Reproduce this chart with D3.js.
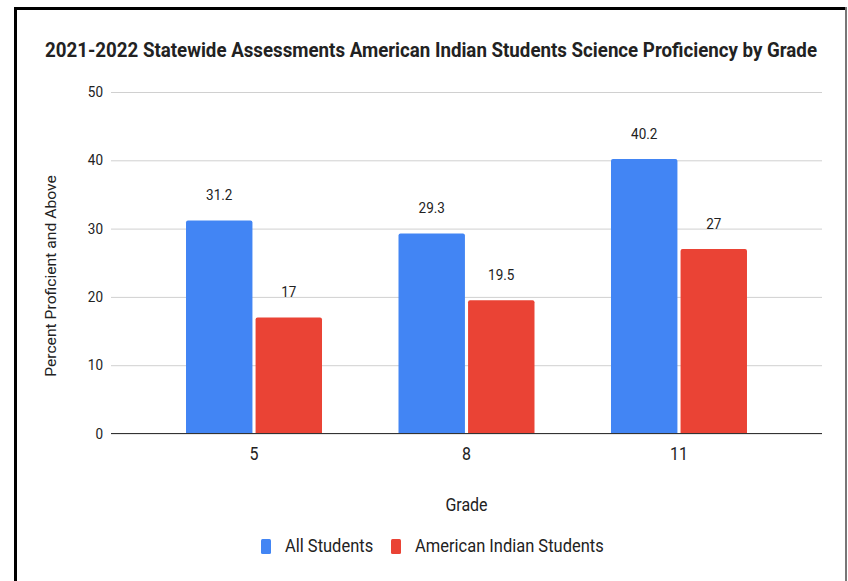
<!DOCTYPE html>
<html>
<head>
<meta charset="utf-8">
<script src="https://cdn.jsdelivr.net/npm/d3@7"></script>
<style>
  html, body { margin: 0; padding: 0; background: #fff; }
  svg { display: block; }
  text { font-family: Roboto, "Noto Sans", sans-serif; fill: #222; }
</style>
</head>
<body>
<svg id="chart" width="848" height="581"></svg>
<script>
const title = "2021-2022 Statewide Assessments American Indian Students Science Proficiency by Grade";
const grades = ["5", "8", "11"];
const seriesNames = ["All Students", "American Indian Students"];
const allStudents = [31.2, 29.3, 40.2];
const americanIndian = [17, 19.5, 27];
const seriesColors = ["#4285F4", "#EA4335"];
const yTicks = [0, 10, 20, 30, 40, 50];
const xTitle = "Grade";
const yTitle = "Percent Proficient and Above";

(function () {
const svg = d3.select("#chart");
const SY = 1.12; // vertical stretch of text in the reference

function txt(g, x, y, s, size, anchor, weight) {
  return g.append("text")
    .attr("transform", `translate(${x},${y}) scale(1,${SY})`)
    .attr("text-anchor", anchor || "start")
    .style("font-size", size + "px")
    .style("font-weight", weight || "normal")
    .text(s);
}

// frame
svg.append("rect").attr("x", 14).attr("y", 7).attr("width", 3).attr("height", 574).attr("fill", "#000");
svg.append("rect").attr("x", 14).attr("y", 7).attr("width", 832).attr("height", 3).attr("fill", "#000");
svg.append("rect").attr("x", 845).attr("y", 7).attr("width", 2).attr("height", 574).attr("fill", "#777");

const pLeft = 111, pRight = 822, pTop = 92, pBottom = 433.5;
const y = d3.scaleLinear().domain([0, 50]).range([pBottom, pTop]);
const x0 = d3.scaleBand().domain(grades).range([pLeft, pRight]).paddingInner(0.36).paddingOuter(0.353);
const x1 = d3.scaleBand().domain(seriesNames).range([0, x0.bandwidth()]).paddingInner(0.045);

const data = grades.map((g, i) => ({ grade: g, vals: [
  { s: seriesNames[0], v: allStudents[i], c: seriesColors[0] },
  { s: seriesNames[1], v: americanIndian[i], c: seriesColors[1] }
]}));

// gridlines
const grid = svg.append("g").attr("transform", `translate(${pLeft},0)`)
  .call(d3.axisLeft(y).tickValues(yTicks).tickSize(-(pRight - pLeft)).tickFormat(""));
grid.select(".domain").remove();
grid.selectAll(".tick line").attr("stroke", "#d0d0d0").attr("stroke-width", 1);

// y tick labels
yTicks.forEach(t => txt(svg, 103, y(t) + 5, String(t), 13.5, "end"));

// bars
const groups = svg.selectAll("g.grp").data(data).enter().append("g")
  .attr("class", "grp").attr("transform", d => `translate(${x0(d.grade)},0)`);
groups.selectAll("path").data(d => d.vals).enter().append("path")
  .attr("fill", d => d.c)
  .attr("d", d => {
    const bx = x1(d.s), bw = x1.bandwidth(), by = y(d.v), r = 2;
    return `M${bx},${pBottom} V${by + r} Q${bx},${by} ${bx + r},${by} H${bx + bw - r} Q${bx + bw},${by} ${bx + bw},${by + r} V${pBottom} Z`;
  });
groups.each(function(d) {
  const g = d3.select(this);
  d.vals.forEach(v => txt(g, x1(v.s) + x1.bandwidth() / 2, y(v.v) - 20, String(v.v), 13.5, "middle"));
});

// baseline
svg.append("line").attr("x1", pLeft).attr("x2", pRight).attr("y1", pBottom).attr("y2", pBottom)
  .attr("stroke", "#333").attr("stroke-width", 1.2);

// x tick labels
grades.forEach(g => txt(svg, x0(g) + x0.bandwidth() / 2, 460, g, 16, "middle"));

// axis titles
txt(svg, x0("8") + x0.bandwidth() / 2, 511, xTitle, 16, "middle");
svg.append("text")
  .attr("transform", `translate(56,276) rotate(-90) scale(${SY},1)`)
  .attr("text-anchor", "middle").style("font-size", "14px").text(yTitle);

// title
txt(svg, 431, 57, title, 17.5, "middle", "bold").attr("textLength", 772).attr("lengthAdjust", "spacingAndGlyphs");

// legend
const legX = [261, 391];
seriesNames.forEach((s, i) => {
  svg.append("rect").attr("x", legX[i]).attr("y", 539).attr("width", 10).attr("height", 15)
    .attr("rx", 1.5).attr("fill", seriesColors[i]);
  txt(svg, legX[i] + 24, 552, s, 16.5, "start");
});
})();
</script>
</body>
</html>
